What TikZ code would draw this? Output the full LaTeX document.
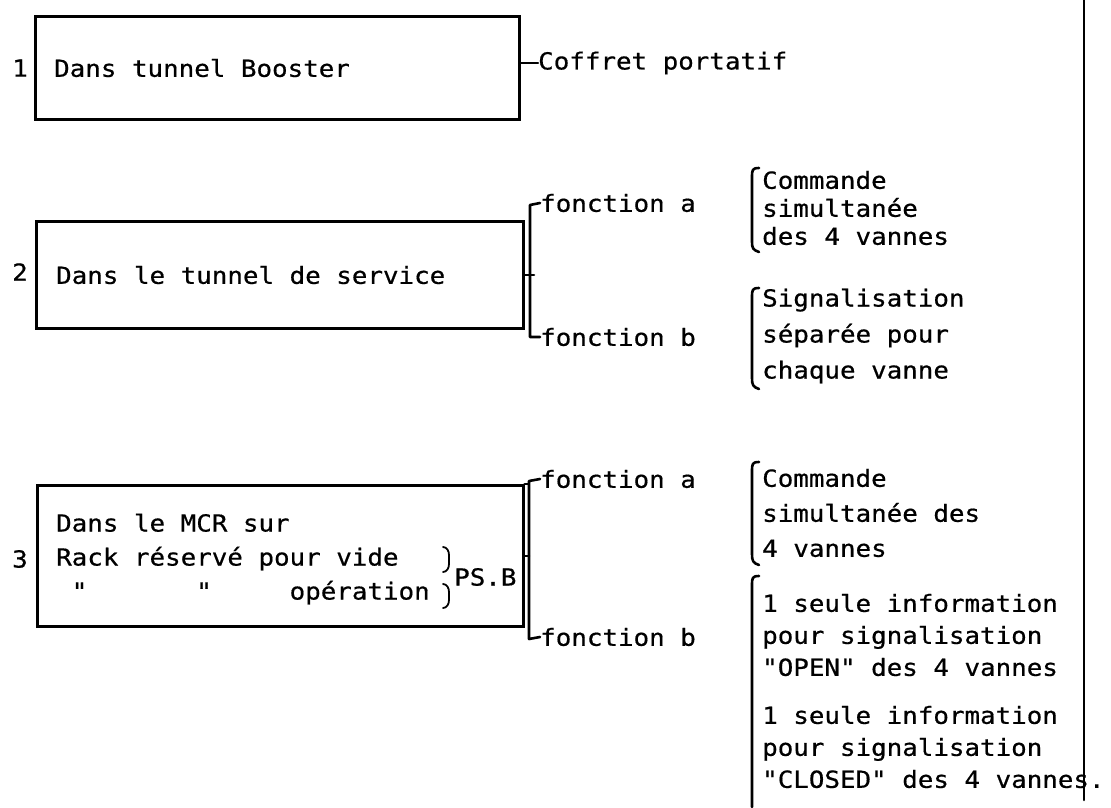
\documentclass[tikz,border=0pt]{standalone}
\usepackage{fontspec}
\setmainfont[FakeStretch=1.10,FakeBold=0.6,Ligatures=TeXOff]{DejaVu Sans Mono}
\begin{document}
\begin{tikzpicture}[x=1pt,y=-1pt,
  frame/.style={draw, line width=2.6pt, inner sep=0pt, anchor=north west},
  txt/.style={inner sep=0pt, anchor=west, align=left, font=\fontsize{23.5}{#1}\selectfont},
  txt/.default=30,
  wire/.style={line width=2.6pt, line cap=round, line join=round}]
\useasboundingbox (0,0) rectangle (1111,807);

% three locations, each a framed box with its number
\node[frame, minimum width=484pt, minimum height=103pt] (box1) at (34,15) {};
\node[frame, minimum width=487pt, minimum height=107pt] (box2) at (35,220) {};
\node[frame, minimum width=486pt, minimum height=141pt] (box3) at (36,484) {};
\node[txt] (n1) at (12,68) {1};
\node[txt] (n2) at (12,272) {2};
\node[txt] (n3) at (12,559) {3};
\node[txt] (t1) at (54,68) {Dans tunnel Booster};
\node[txt] (t2) at (56,275) {Dans le tunnel de service};
\node[txt=34] (t3) at (56,559) {Dans le MCR sur\\Rack réservé pour vide\\\hphantom{x}"\hphantom{xxxxxxx}"\hphantom{xxxxx}opération};
\node[txt] (psb) at (454,577) {PS.B};
\draw[wire, line width=1.8pt] (443,547) to[out=0,in=90] (449,555) -- (449,564) to[out=-90,in=0] (443,572);
\draw[wire, line width=1.8pt] (443,584) to[out=0,in=90] (449,592) -- (449,600) to[out=-90,in=0] (443,608);

% box 1: portable case
\node[txt] (coffret) at (538,63) {Coffret portatif};
\draw[wire] (coffret.west -| box1.east) -- (coffret.west);

% box 2: two functions
\node[txt] (fa2) at (540,203) {fonction a};
\node[txt] (fb2) at (540,337) {fonction b};
\coordinate (s2t) at (530,205);
\coordinate (s2b) at (530,337);
\draw[wire] (fa2.west) -- (s2t) -- (s2b) -- (fb2.west);
\draw[wire] (box2.east) -- ([xshift=4pt]box2.east -| s2t);

\node[txt=28] (g2a) at (762,208) {Commande\\simultanée\\des 4 vannes};
\node[txt=36] (g2b) at (762,336) {Signalisation\\séparée pour\\chaque vanne};
\draw[wire] (759,168) .. controls (752,168) and (752,170) .. (752,178) -- (752,242) .. controls (752,248) and (753,250) .. (759,252);
\draw[wire] (759,288) .. controls (752,288) and (752,290) .. (752,298) -- (752,378) .. controls (752,385) and (753,387) .. (759,389);

% box 3: two functions
\node[txt] (fa3) at (540,479) {fonction a};
\node[txt] (fb3) at (540,637) {fonction b};
\coordinate (s3t) at (529,481);
\coordinate (s3b) at (529,639);
\draw[wire] (fa3.west) -- (s3t) -- (s3b) -- (fb3.west);
\draw[wire] (box3.east) -- (box3.east -| s3t);
\draw[wire] (box3.north east) -- ([xshift=3pt]box3.north east);

\node[txt=35] (g3a) at (762,513) {Commande\\simultanée des\\4 vannes};
\node[txt=32] (g3b) at (762,635) {1 seule information\\pour signalisation\\"OPEN" des 4 vannes};
\node[txt=32] (g3c) at (762,747) {1 seule information\\pour signalisation\\"CLOSED" des 4 vannes.};
\draw[wire] (759,462) .. controls (752,462) and (752,464) .. (752,472) -- (752,554) .. controls (752,561) and (753,563) .. (759,565);
\draw[wire] (759,576) .. controls (752,576) and (752,578) .. (752,586) -- (752,807);

% right-hand margin rule
\coordinate (rt) at (1084,0);
\coordinate (rb) at (1084,800);
\draw[wire] (rt) -- (rb);
\end{tikzpicture}
\end{document}
